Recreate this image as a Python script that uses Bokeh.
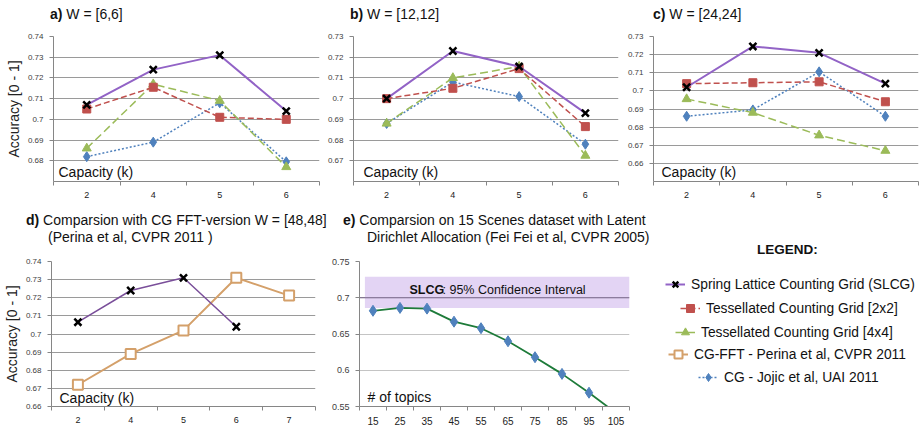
from bokeh.plotting import figure
from bokeh.models import (Range1d, FixedTicker, NumeralTickFormatter, Label, Span,
                          BoxAnnotation, Legend, LegendItem, Div)
from bokeh.layouts import row, column
from bokeh.embed import file_html
from bokeh.resources import INLINE

# ---------------- data ----------------
capacity = ["2", "4", "5", "6"]
capacity_d = ["2", "4", "5", "6", "7"]
topics = ["15", "25", "35", "45", "55", "65", "75", "85", "95", "105"]

slcg_a = [0.707, 0.724, 0.731, 0.704]
tcg2_a = [0.705, 0.7155, 0.701, 0.700]
tcg4_a = [0.686, 0.717, 0.709, 0.677]
cg_a = [0.682, 0.689, 0.708, 0.6795]

slcg_b = [0.700, 0.723, 0.7155, 0.693]
tcg2_b = [0.700, 0.705, 0.7145, 0.6865]
tcg4_b = [0.688, 0.710, 0.7155, 0.6725]
cg_b = [0.688, 0.708, 0.701, 0.678]

slcg_c = [0.702, 0.7245, 0.721, 0.704]
tcg2_c = [0.704, 0.7045, 0.705, 0.694]
tcg4_c = [0.6955, 0.688, 0.6755, 0.667]
cg_c = [0.686, 0.6895, 0.7105, 0.686]

slcg_d = [0.7065, 0.724, 0.731, 0.704]
cgfft_d = [0.672, 0.689, 0.702, 0.731, 0.7212]

lda_e = [0.682, 0.686, 0.685, 0.667, 0.658, 0.640, 0.618, 0.595, 0.569, 0.541]
slcg_ci_low, slcg_ci_high, slcg_mean = 0.686, 0.729, 0.70

ticks_a = [0.68, 0.69, 0.70, 0.71, 0.72, 0.73, 0.74]
ticks_b = [0.67, 0.68, 0.69, 0.70, 0.71, 0.72, 0.73]
ticks_c = [0.66, 0.67, 0.68, 0.69, 0.70, 0.71, 0.72, 0.73]
ticks_d = [0.66, 0.67, 0.68, 0.69, 0.70, 0.71, 0.72, 0.73, 0.74]
ticks_e = [0.55, 0.60, 0.65, 0.70, 0.75]

FONT = "Liberation Sans"

# ---------------- styles ----------------
S_SLCG = dict(line=dict(line_color="#9263C6", line_width=2),
              mk=dict(marker="x", size=10, line_color="black", line_width=2.5))
S_TCG2 = dict(line=dict(line_color="#C0504D", line_width=1.5, line_dash="6 3"),
              mk=dict(marker="square", size=8, fill_color="#C0504D", line_color="#C0504D"))
S_TCG4 = dict(line=dict(line_color="#9BBB59", line_width=1.5, line_dash="8 4"),
              mk=dict(marker="triangle", size=9, fill_color="#9BBB59", line_color="#9BBB59"))
S_CG = dict(line=dict(line_color="#4F81BD", line_width=1.5, line_dash="2 2"),
            mk=dict(marker="diamond", size=10, fill_color="#4F81BD", line_color="#4F81BD"))
S_FFT = dict(line=dict(line_color="#D4A06A", line_width=2),
             mk=dict(marker="square", size=10, fill_color="white", line_color="#D4A06A", line_width=2))


def panel(cats, y0, y1, yticks, width, height, bl, br, bt, bb, ylabel=None,
          grid_color="#9A9A9A", ytick_size="8px", xtick_size="9px"):
    n = len(cats)
    xs = list(range(1, n + 1))
    p = figure(width=width, height=height, x_range=Range1d(0.5, n + 0.5),
               y_range=Range1d(y0, y1), toolbar_location=None, output_backend="svg",
               min_border_left=bl, min_border_right=br, min_border_top=bt,
               min_border_bottom=bb)
    p.outline_line_color = None
    p.xgrid.visible = False
    p.ygrid.ticker = FixedTicker(ticks=yticks)
    p.ygrid.grid_line_color = grid_color
    ax = p.yaxis[0]
    ax.ticker = FixedTicker(ticks=yticks)
    ax.formatter = NumeralTickFormatter(format="0.[00]")
    ax.axis_line_color = "#868686"
    ax.major_tick_line_color = "#868686"
    ax.major_tick_out = 4
    ax.major_tick_in = 0
    ax.minor_tick_line_color = None
    ax.major_label_standoff = 6
    ax.major_label_text_font = FONT
    ax.major_label_text_font_size = ytick_size
    ax.major_label_text_color = "#404040"
    if ylabel:
        ax.axis_label = ylabel
        ax.axis_label_text_font = FONT
        ax.axis_label_text_font_size = "14px"
        ax.axis_label_text_font_style = "normal"
        ax.axis_label_text_color = "#222222"
        ax.axis_label_standoff = 3
    bx = p.xaxis[0]
    bx.ticker = FixedTicker(ticks=xs, minor_ticks=[x - 0.5 for x in xs] + [n + 0.5])
    bx.major_label_overrides = {x: c for x, c in zip(xs, cats)}
    bx.axis_line_color = "#868686"
    bx.major_tick_line_color = None
    bx.minor_tick_line_color = "#868686"
    bx.minor_tick_out = 4
    bx.minor_tick_in = 0
    bx.major_label_standoff = 4
    bx.major_label_text_font = FONT
    bx.major_label_text_font_size = xtick_size
    bx.major_label_text_color = "#222222"
    return p, xs


def series(p, xs, ys, style):
    p.line(xs[:len(ys)], ys, **style["line"])
    p.scatter(xs[:len(ys)], ys, **style["mk"])


def inner(p, text, x=5, y=2):
    p.add_layout(Label(x=x, y=y, x_units="screen", y_units="screen", text=text,
                       text_font=FONT, text_font_size="14px", text_baseline="bottom",
                       text_color="#111111"))


def span(left, top, html, size="14px", lh=16):
    return (f'<span style="position:absolute;left:{left}px;top:{top}px;white-space:nowrap;'
            f'font-size:{size};line-height:{lh}px;">{html}</span>')


def title_div(width, height, spans):
    html = (f'<div style="position:relative;width:{width}px;height:{height}px;'
            f'font-family:\'{FONT}\',Arial,sans-serif;color:#111111;">' + "".join(spans) + "</div>")
    return Div(text=html, width=width, height=height, margin=0)


TOTAL_W = 920

# ---------------- titles (top) ----------------
div_top = title_div(TOTAL_W, 28, [
    span(50, 6, "<b>a)</b> W = [6,6]"),
    span(350, 6, "<b>b)</b> W = [12,12]"),
    span(653, 6, "<b>c)</b> W = [24,24]"),
])

H1, BT1, BB1 = 172, 8, 18

# ---------------- panel a ----------------
pa, xa = panel(capacity, 0.67, 0.74, ticks_a, 320, H1, 53, 1, BT1, BB1, ylabel="Accuracy [0 - 1]")
for ys, st in [(cg_a, S_CG), (tcg4_a, S_TCG4), (tcg2_a, S_TCG2), (slcg_a, S_SLCG)]:
    series(pa, xa, ys, st)
inner(pa, "Capacity (k)")

# ---------------- panel b ----------------
pb, xb = panel(capacity, 0.66, 0.73, ticks_b, 300, H1, 33, 2, BT1, BB1)
for ys, st in [(cg_b, S_CG), (tcg4_b, S_TCG4), (tcg2_b, S_TCG2), (slcg_b, S_SLCG)]:
    series(pb, xb, ys, st)
inner(pb, "Capacity (k)", x=10)

# ---------------- panel c ----------------
pc, xc = panel(capacity, 0.65, 0.73, ticks_c, 300, H1, 33, 2, BT1, BB1)
for ys, st in [(cg_c, S_CG), (tcg4_c, S_TCG4), (tcg2_c, S_TCG2), (slcg_c, S_SLCG)]:
    series(pc, xc, ys, st)
inner(pc, "Capacity (k)", x=8)

# ---------------- titles (bottom) ----------------
div_bot = title_div(TOTAL_W, 56, [
    span(26, 12, "<b>d)</b> Comparsion with CG FFT-version W = [48,48]"),
    span(48, 29, "(Perina et al, CVPR 2011 )"),
    span(343, 12, "<b>e)</b> Comparsion on 15 Scenes dataset with Latent"),
    span(367, 29, "Dirichlet Allocation (Fei Fei et al, CVPR 2005)"),
    span(757, 43, "<b>LEGEND:</b>", size="13.5px", lh=13),
])

H2, BT2, BB2 = 171, 5, 16
FH2 = H2 - BT2 - BB2

# ---------------- panel d ----------------
pd_, xd = panel(capacity_d, 0.66, 0.74, ticks_d, 326, H2, 50, 11, BT2, BB2, ylabel="Accuracy [0 - 1]")
S_SLCG_D = dict(line=dict(line_color="#7A4F9A", line_width=1.5), mk=S_SLCG["mk"])
series(pd_, xd, cgfft_d, S_FFT)
series(pd_, xd, slcg_d, S_SLCG_D)
inner(pd_, "Capacity (k)", x=8, y=1)

# ---------------- panel e ----------------
pe, xe = panel(topics, 0.55, 0.75, ticks_e, 316, H2, 33, 13, BT2, BB2,
               grid_color="#C4C4C4", ytick_size="9px", xtick_size="10px")
band = BoxAnnotation(left=0.5 + 0.2, right=len(topics) + 0.5, bottom=slcg_ci_low, top=slcg_ci_high,
                     fill_color="#E3D4F4", fill_alpha=1.0, line_color=None, level="underlay")
pe.add_layout(band)
pe.add_layout(Span(location=slcg_mean, dimension="width", line_color="#6F5F80", line_width=1,
                   level="underlay"))
pe.line(xe, lda_e, line_color="#1E7B3A", line_width=1.8)
pe.scatter(xe, lda_e, marker="diamond", size=11, fill_color="#4F81BD", line_color="#4F81BD")
pe.add_layout(Label(x=50, y=slcg_mean, x_units="screen", y_units="data", y_offset=1,
                    text="SLCG", text_font=FONT, text_font_size="12.5px",
                    text_font_style="bold", text_baseline="bottom", text_color="#111111"))
pe.add_layout(Label(x=83, y=slcg_mean, x_units="screen", y_units="data", y_offset=1,
                    text=": 95% Confidence Interval", text_font=FONT, text_font_size="12.5px",
                    text_baseline="bottom", text_color="#111111"))
inner(pe, "# of topics", x=8, y=2)

# ---------------- legend panel ----------------
pl = figure(width=TOTAL_W - 326 - 316, height=H2, x_range=Range1d(-20, -10),
            y_range=Range1d(-20, -10), toolbar_location=None, output_backend="svg",
            min_border_left=0, min_border_right=0, min_border_top=BT2, min_border_bottom=BB2,
            x_axis_type=None, y_axis_type=None)
pl.grid.visible = False
pl.outline_line_color = None

legend_names = ["Spring Lattice Counting Grid (SLCG)", "Tessellated Counting Grid [2x2]",
                "Tessellated Counting Grid [4x4]", "CG-FFT - Perina et al, CVPR 2011",
                "CG - Jojic et al, UAI 2011"]
legend_styles = [S_SLCG, S_TCG2, S_TCG4, S_FFT, S_CG]
legend_data = [slcg_a, tcg2_a, tcg4_a, cgfft_d, cg_a]
legend_x = [23, 38, 33, 26, 56]
legend_y = [28, 52, 76, 98, 121]   # distance of each entry centre below the frame top
for name, st, ys, lx, ly in zip(legend_names, legend_styles, legend_data, legend_x, legend_y):
    xs_l = list(range(1, len(ys) + 1))
    rl = pl.line(xs_l, ys, **st["line"])
    rs = pl.scatter(xs_l, ys, **st["mk"])
    leg = Legend(items=[LegendItem(label=name, renderers=[rl, rs])],
                 location=(lx, FH2 - ly - 10), padding=0, margin=0, spacing=0,
                 glyph_width=20, glyph_height=20, label_standoff=6,
                 label_text_font=FONT, label_text_font_size="13.8px", label_text_color="#111111",
                 label_height=20, border_line_color=None, background_fill_alpha=0)
    pl.add_layout(leg)

layout = column(div_top, row(pa, pb, pc), div_bot, row(pd_, pe, pl))

with open("out.html", "w") as f:
    f.write(file_html(layout, INLINE))
